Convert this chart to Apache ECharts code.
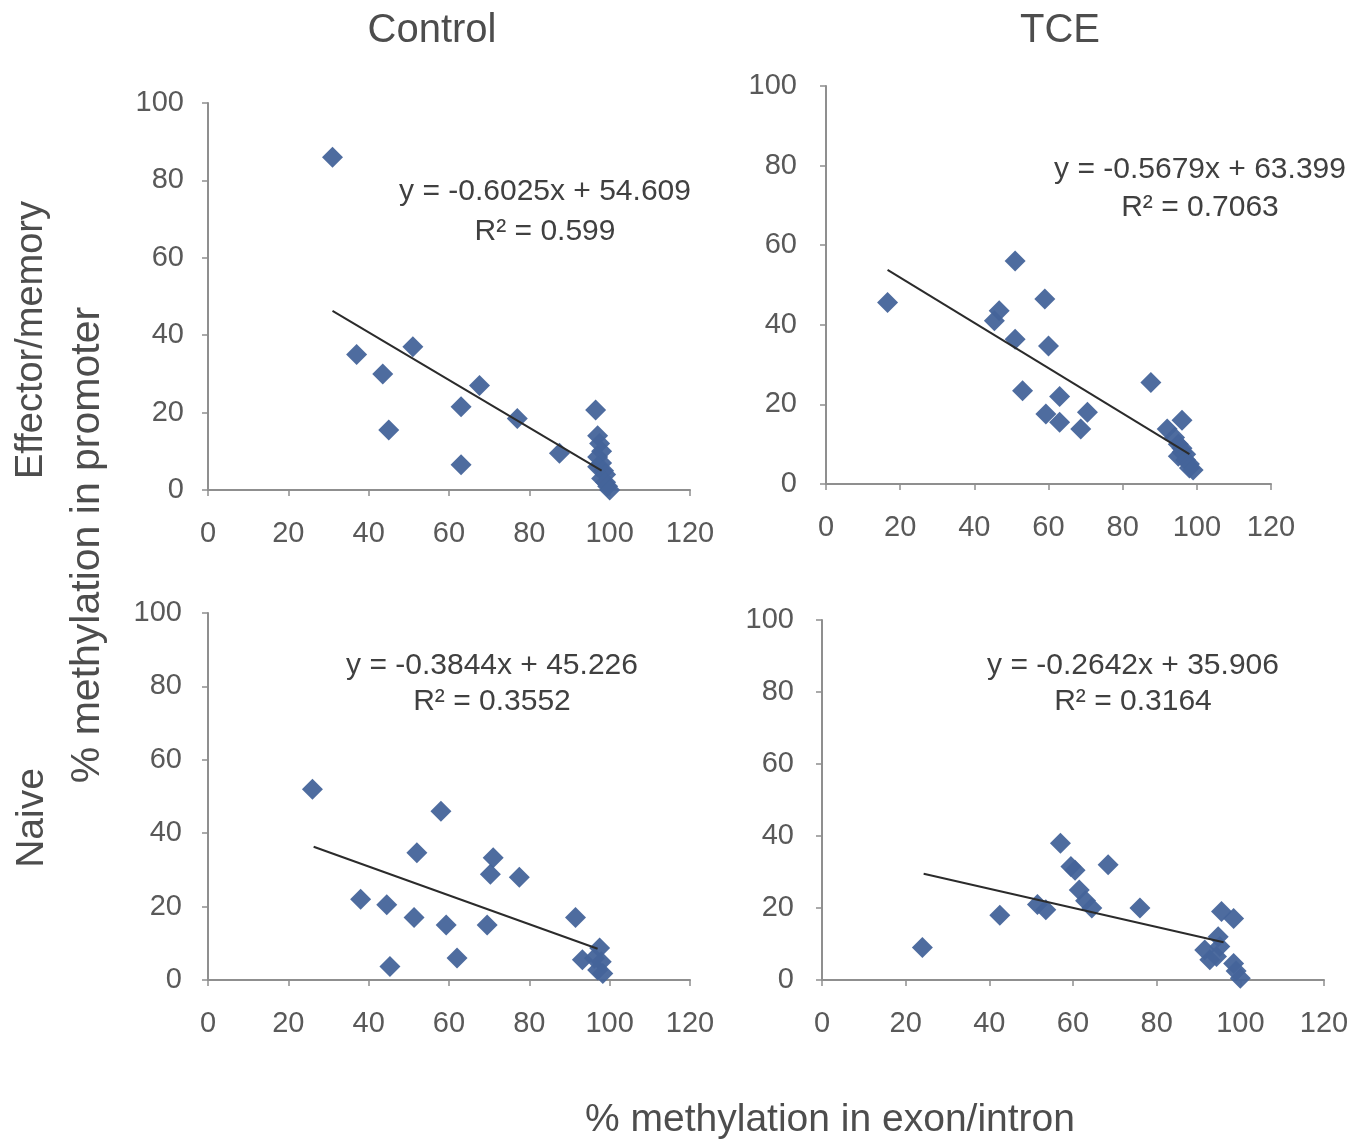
<!DOCTYPE html>
<html>
<head>
<meta charset="utf-8">
<script src="https://cdn.jsdelivr.net/npm/echarts@6/dist/echarts.min.js"></script>
<style>
html,body{margin:0;padding:0;background:#fff;}
#chart{width:1363px;height:1143px;}
</style>
</head>
<body>
<div id="chart"></div>
<script>
// ---- Data ----
const xTicks = [0, 20, 40, 60, 80, 100, 120];
const yTicks = [0, 20, 40, 60, 80, 100];

const columnTitles = ['Control', 'TCE'];
const rowTitles = ['Effector/memory', 'Naive'];
const yAxisTitle = '% methylation in promoter';
const xAxisTitle = '% methylation in exon/intron';

// Control, effector/memory
const controlEffector = [
  [31, 86], [37, 35], [43.5, 30], [45, 15.5], [51, 37], [63, 21.5], [63, 6.5],
  [67.6, 27], [77, 18.5], [87.5, 9.5], [96.5, 20.7],
  [97, 14], [97.5, 12], [98, 10], [97, 8.5], [98, 7], [97, 6], [98.5, 5],
  [99, 4], [98, 3], [99, 2], [99.5, 1], [100, 0]
];
const controlEffectorTrend = [[31, 46.3], [98, 5]];
const controlEffectorEq = ['y = -0.6025x + 54.609', 'R\u00B2 = 0.599'];

// TCE, effector/memory
const tceEffector = [
  [16.6, 45.6], [51, 56], [59, 46.5], [46.7, 43.5], [45.4, 41], [51, 36.4],
  [60, 34.7], [53, 23.4], [63, 22], [59.3, 17.6], [63, 15.5], [70.5, 18],
  [68.7, 13.8], [87.6, 25.5], [96, 16], [92, 13.8], [94, 11.7],
  [95, 10], [96, 9], [96, 8], [95, 7], [97, 7.5], [97, 6], [98, 5], [98, 4], [99, 3.5]
];
const tceEffectorTrend = [[16.6, 53.8], [98, 7.5]];
const tceEffectorEq = ['y = -0.5679x + 63.399', 'R\u00B2 = 0.7063'];

// Control, naive
const controlNaive = [
  [26, 52], [58, 46], [52, 34.7], [71, 33.3], [70.3, 28.8], [77.5, 28],
  [38, 22], [44.5, 20.5], [51.3, 17], [59.3, 15], [69.5, 15], [91.5, 17],
  [62, 6], [45.3, 3.7], [93.2, 5.5], [97.5, 8.7], [97.9, 5], [97, 2.7],
  [96.2, 5.9], [98.3, 1.8]
];
const controlNaiveTrend = [[26.3, 36.3], [97, 8.5]];
const controlNaiveEq = ['y = -0.3844x + 45.226', 'R\u00B2 = 0.3552'];

// TCE, naive
const tceNaive = [
  [24, 9], [42.5, 18], [51.5, 21], [53.5, 19.5], [57, 38], [59.5, 31.5],
  [60.5, 30.5], [68.4, 32], [61.5, 25], [63, 22], [64.5, 20], [76, 20],
  [95.5, 19], [98.4, 17.1], [91.5, 8.3], [92.7, 5.6], [95.1, 9.3],
  [94.3, 6.5], [94.7, 12], [98.4, 4.6], [99, 2.5], [100, 0.5]
];
const tceNaiveTrend = [[24.3, 29.5], [96, 10.5]];
const tceNaiveEq = ['y = -0.2642x + 35.906', 'R\u00B2 = 0.3164'];

// ---- Layout / style ----
const markerColor = '#44649a';
const axisColor = '#8f8f8f';
const labelColor = '#595959';
const textColor = '#4d4d4d';
const FONT = '"Liberation Sans", Arial, sans-serif';

const grids = [
  { left: 208, top: 103, width: 482, height: 387 },
  { left: 826, top: 86,  width: 445, height: 398 },
  { left: 208, top: 613, width: 482, height: 367 },
  { left: 822, top: 620, width: 502, height: 360 }
];
const yMargins = [24, 29, 26, 28];

const panels = [
  { pts: controlEffector, trend: controlEffectorTrend, eq: controlEffectorEq, eqPos: [545, 192, 232] },
  { pts: tceEffector,     trend: tceEffectorTrend,     eq: tceEffectorEq,     eqPos: [1200, 170, 208] },
  { pts: controlNaive,    trend: controlNaiveTrend,    eq: controlNaiveEq,    eqPos: [492, 666, 702] },
  { pts: tceNaive,        trend: tceNaiveTrend,        eq: tceNaiveEq,        eqPos: [1133, 666, 702] }
];

const xAxes = grids.map((g, i) => ({
  type: 'value', gridIndex: i,
  min: xTicks[0], max: xTicks[xTicks.length - 1], interval: xTicks[1] - xTicks[0],
  axisLine: { show: true, onZero: false, lineStyle: { color: axisColor, width: 2 } },
  axisTick: { show: true, inside: false, length: 6, lineStyle: { color: axisColor, width: 1.5 } },
  splitLine: { show: false },
  axisLabel: { color: labelColor, fontSize: 29, fontFamily: FONT, margin: 29 }
}));
const yAxes = grids.map((g, i) => ({
  type: 'value', gridIndex: i,
  min: yTicks[0], max: yTicks[yTicks.length - 1], interval: yTicks[1] - yTicks[0],
  axisLine: { show: true, onZero: false, lineStyle: { color: axisColor, width: 2 } },
  axisTick: { show: true, inside: false, length: 6, lineStyle: { color: axisColor, width: 1.5 } },
  splitLine: { show: false },
  axisLabel: { color: labelColor, fontSize: 29, fontFamily: FONT, margin: yMargins[i] }
}));

const series = [];
panels.forEach((p, i) => {
  series.push({
    type: 'line', xAxisIndex: i, yAxisIndex: i, data: p.trend,
    showSymbol: false, symbol: 'none', silent: true, z: 3,
    lineStyle: { color: '#2b2b2b', width: 2 }
  });
  series.push({
    type: 'scatter', xAxisIndex: i, yAxisIndex: i, data: p.pts,
    symbol: 'diamond', symbolSize: 21, z: 2,
    itemStyle: { color: markerColor, opacity: 0.95 }
  });
});

const graphic = [];
function addText(text, x, y, size, rot, color) {
  graphic.push({
    type: 'text', x: x, y: y, rotation: rot || 0, z: 10,
    style: { text: text, font: size + 'px ' + FONT, fill: color || textColor, align: 'center', verticalAlign: 'middle' }
  });
}
addText(columnTitles[0], 432, 31, 40);
addText(columnTitles[1], 1060, 31, 40);
addText(rowTitles[0], 32, 340, 38, Math.PI / 2);
addText(rowTitles[1], 32, 818, 39, Math.PI / 2);
addText(yAxisTitle, 88, 545, 41, Math.PI / 2);
addText(xAxisTitle, 830, 1120, 39);
panels.forEach(p => {
  addText(p.eq[0], p.eqPos[0], p.eqPos[1], 30, 0, '#404040');
  addText(p.eq[1], p.eqPos[0], p.eqPos[2], 30, 0, '#404040');
});

const chart = echarts.init(document.getElementById('chart'), null, { renderer: 'canvas' });
chart.setOption({
  backgroundColor: '#ffffff',
  animation: false,
  grid: grids.map(g => Object.assign({ containLabel: false }, g)),
  xAxis: xAxes,
  yAxis: yAxes,
  series: series,
  graphic: graphic
});
</script>
</body>
</html>
